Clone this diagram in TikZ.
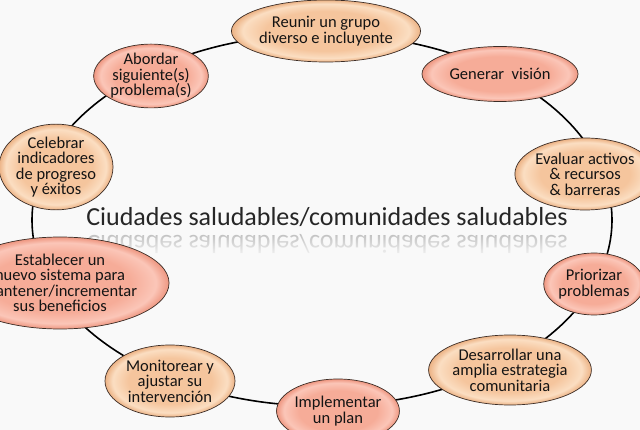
\documentclass[tikz,border=0pt]{standalone}
\usepackage{fontspec}
\setmainfont{Carlito}
\usetikzlibrary{shapes.geometric,fadings}
\definecolor{tanMid}{RGB}{245,197,157}
\definecolor{tanLight}{RGB}{251,222,194}
\definecolor{tanDark}{RGB}{236,178,132}
\definecolor{salMid}{RGB}{246,172,152}
\definecolor{salLight}{RGB}{251,198,184}
\definecolor{salDark}{RGB}{238,150,128}
\definecolor{edgec}{RGB}{60,45,38}
\definecolor{bgc}{RGB}{249,249,249}
\pgfdeclareradialshading{tanshade}{\pgfpoint{0bp}{0bp}}{color(0bp)=(tanMid); color(16bp)=(tanMid); color(22bp)=(tanLight); color(25bp)=(tanDark); color(50bp)=(tanDark)}
\pgfdeclareradialshading{salshade}{\pgfpoint{0bp}{0bp}}{color(0bp)=(salMid); color(16bp)=(salMid); color(22bp)=(salLight); color(25bp)=(salDark); color(50bp)=(salDark)}
\tikzset{
  cyc/.style={ellipse, draw=edgec, line width=0.7pt, align=center, inner sep=0pt,
    font=\fontsize{16.5}{15.5}\selectfont, text=black!92},
  tanbox/.style={cyc, shading=tanshade},
  salbox/.style={cyc, shading=salshade},
  ring/.style={line width=1.6pt, black},
  titletext/.style={font=\fontsize{26}{28}\selectfont, text=black!85},
}
\begin{document}
\begin{tikzpicture}[x=1pt,y=-1pt]
\useasboundingbox (0,0) rectangle (640,430);
\clip (0,0) rectangle (640,430);
\fill[bgc] (0,0) rectangle (640,430);
\draw[ring] (322,220) ellipse [x radius=290, y radius=186];
\node[titletext] (title) at (327,217) {Ciudades saludables/comunidades saludables};
\node[titletext, text=black!28, yscale=-1] (refl) at (327,244) {Ciudades saludables/comunidades saludables};
\fill[bgc, path fading=north] (80,230) rectangle (580,258);
\node[tanbox, minimum width=173pt, minimum height=62pt] (n1) at (326,31) {Reunir un grupo\\diverso e incluyente};
\node[salbox, minimum width=156pt, minimum height=55pt] (n2) at (500,74) {Generar\ \ visión};
\node[tanbox, minimum width=124pt, minimum height=72pt] (n3) at (585,174) {Evaluar activos\\\& recursos\\\& barreras};
\node[salbox, minimum width=100pt, minimum height=62pt] (n4) at (594,284) {Priorizar\\problemas};
\node[tanbox, minimum width=150pt, minimum height=70pt] (n5) at (510,370) {Desarrollar una\\amplia estrategia\\comunitaria};
\node[salbox, minimum width=116pt, minimum height=64pt] (n6) at (338,411) {Implementar\\un plan};
\node[tanbox, minimum width=130pt, minimum height=72pt] (n7) at (170,381) {Monitorear y\\ajustar su\\intervención};
\node[salbox, minimum width=152pt, minimum height=92pt] (n8) at (60,283) {Establecer un\\nuevo sistema para\\mantener/incrementar\\sus beneficios};
\node[tanbox, minimum width=114pt, minimum height=82pt] (n9) at (56,167) {Celebrar\\indicadores\\de progreso\\y éxitos};
\node[salbox, minimum width=107pt, minimum height=60pt] (n10) at (151,76) {Abordar\\siguiente(s)\\problema(s)};
\end{tikzpicture}
\end{document}
